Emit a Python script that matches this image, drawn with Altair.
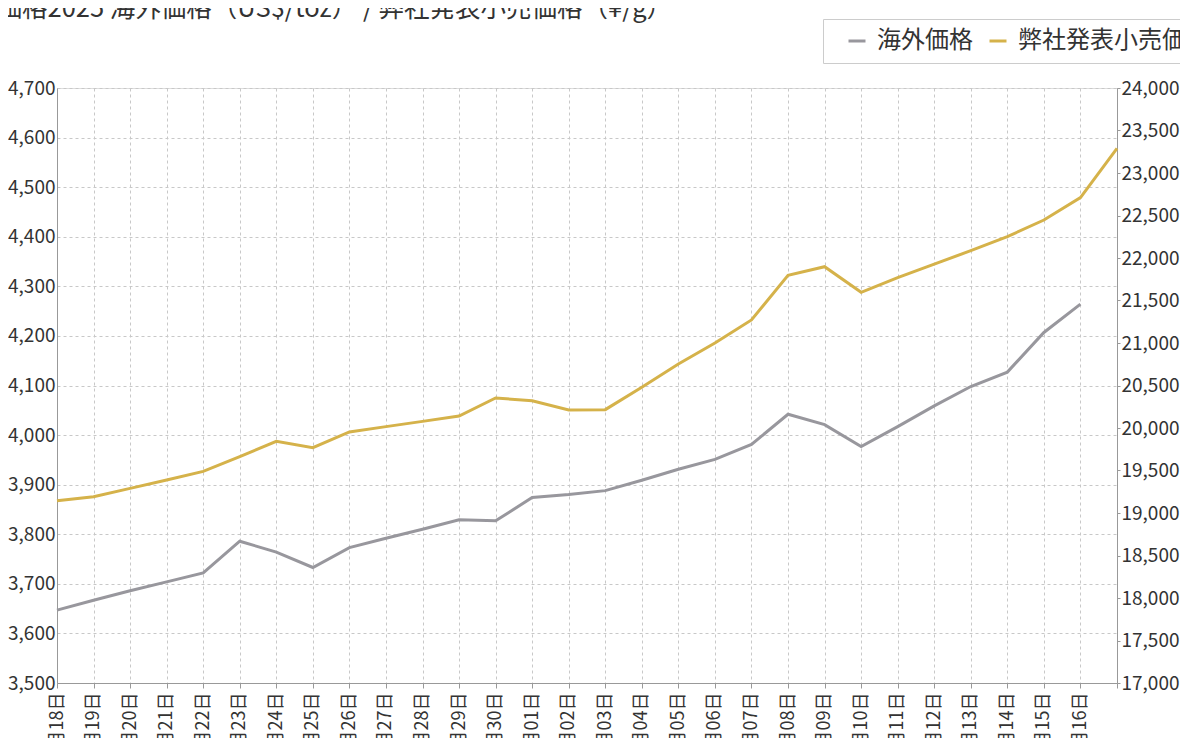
import altair as alt
import pandas as pd

dates = [
    "09月18日", "09月19日", "09月20日", "09月21日", "09月22日", "09月23日", "09月24日",
    "09月25日", "09月26日", "09月27日", "09月28日", "09月29日", "09月30日", "10月01日",
    "10月02日", "10月03日", "10月04日", "10月05日", "10月06日", "10月07日", "10月08日",
    "10月09日", "10月10日", "10月11日", "10月12日", "10月13日", "10月14日", "10月15日",
    "10月16日", "10月17日",
]
overseas = [
    3647, 3667, 3686, 3704, 3722, 3786, 3764, 3733, 3773, 3792, 3810, 3829, 3827, 3874,
    3880, 3888, 3909, 3931, 3951, 3981, 4042, 4021, 3977, 4017, 4059, 4098, 4127, 4207,
    4264,
]
retail = [
    19145, 19192, 19290, 19388, 19490, 19663, 19843, 19769, 19953, 20016, 20078, 20141,
    20353, 20321, 20212, 20216, 20480, 20753, 21000, 21271, 21796, 21898, 21596, 21769,
    21929, 22086, 22251, 22447, 22710, 23290,
]
series_names = ["海外価格", "弊社発表小売価格"]
series_colors = ["#98979d", "#d5b24a"]
left_ticks = list(range(3500, 4701, 100))
right_ticks = list(range(17000, 24001, 500))
title_text = "金価格2025 海外価格（US$/toz） / 弊社発表小売価格（¥/g）"

rows = []
for d, v in zip(dates, overseas):
    rows.append({"date": d, "series": series_names[0], "value": v})
for d, v in zip(dates, retail):
    rows.append({"date": d, "series": series_names[1], "value": v})
df = pd.DataFrame(rows)

FONT = "Noto Sans CJK JP"
W = 1060
H = 595

x_enc = alt.X(
    "date:N",
    sort=dates,
    scale=alt.Scale(type="point", padding=0),
    axis=alt.Axis(
        title=None,
        labelAngle=270,
        labelFontSize=18,
        labelFont=FONT,
        labelColor="#333333",
        labelPadding=4,
        labelOverlap=False,
        labelExpr="datum.value == '10月17日' ? '' : datum.value",
        tickSize=5,
        tickColor="#999999",
        domainColor="#999999",
        grid=True,
        gridColor="#c8c8c8",
        gridDash=[3, 3],
        gridWidth=1,
    ),
)

color_enc = alt.Color(
    "series:N",
    scale=alt.Scale(domain=series_names, range=series_colors),
    legend=alt.Legend(
        title=None,
        orient="none",
        legendX=766,
        legendY=-69,
        direction="horizontal",
        strokeColor="#cccccc",
        fillColor="white",
        padding=10,
        labelFontSize=24,
        labelFont=FONT,
        labelColor="#333333",
        labelLimit=400,
        symbolType="stroke",
        symbolStrokeWidth=3,
        symbolSize=289,
        symbolOffset=12,
        labelOffset=8,
        columnPadding=1,
    ),
)

left = alt.Chart(df).transform_filter(
    alt.datum.series == series_names[0]
).mark_line(strokeWidth=3).encode(
    x=x_enc,
    y=alt.Y(
        "value:Q",
        scale=alt.Scale(domain=[3500, 4700], nice=False, zero=False),
        axis=alt.Axis(
            title=None,
            orient="left",
            values=left_ticks,
            format=",d",
            labelFontSize=19,
            labelFont=FONT,
            labelColor="#333333",
            labelPadding=2,
            ticks=False,
            domainColor="#999999",
            grid=True,
            gridColor="#c8c8c8",
            gridDash=[3, 3],
            gridWidth=1,
        ),
    ),
    color=color_enc,
)

right = alt.Chart(df).transform_filter(
    alt.datum.series == series_names[1]
).mark_line(strokeWidth=3).encode(
    x=x_enc,
    y=alt.Y(
        "value:Q",
        scale=alt.Scale(domain=[17000, 24000], nice=False, zero=False),
        axis=alt.Axis(
            title=None,
            orient="right",
            values=right_ticks,
            format=",d",
            labelFontSize=19,
            labelFont=FONT,
            labelColor="#333333",
            labelPadding=1,
            tickSize=3,
            tickColor="#999999",
            domainColor="#999999",
            grid=False,
        ),
    ),
    color=color_enc,
)

chart = alt.layer(left, right).resolve_scale(y="independent").properties(
    width=W,
    height=H,
    autosize=alt.AutoSizeParams(type="none"),
    padding={"left": 49, "top": 80, "right": 63, "bottom": 55},
    title=alt.Title(
        title_text,
        fontSize=25.5,
        font=FONT,
        fontWeight="normal",
        color="#333333",
        anchor="start",
        frame="group",
        baseline="alphabetic",
        offset=1,
        dx=-86,
        dy=25,
    ),
).configure_view(stroke=None).configure(background="white")

chart.save("out.html", embed_options={"renderer": "svg", "actions": False})
